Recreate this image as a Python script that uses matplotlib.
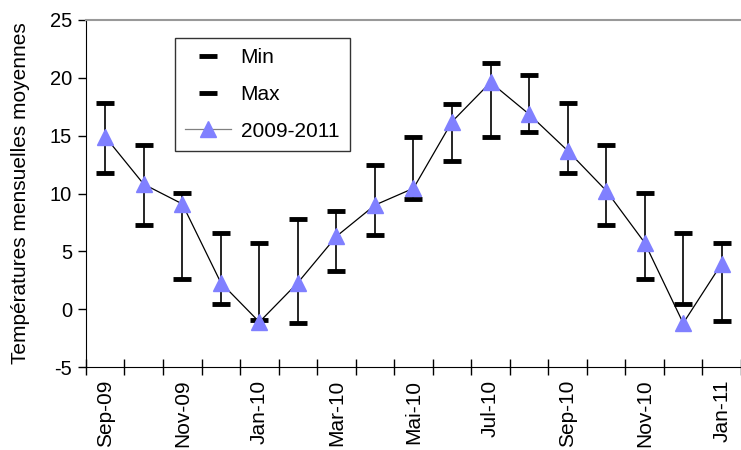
import numpy as np
import matplotlib.pyplot as plt

plt.rcParams['font.family'] = ['Liberation Sans', 'DejaVu Sans']
plt.rcParams['axes.unicode_minus'] = False

# months Sep-09 .. Jan-11
mois = ['Sep-09', 'Oct-09', 'Nov-09', 'Dec-09', 'Jan-10', 'Fev-10', 'Mar-10', 'Avr-10',
        'Mai-10', 'Jun-10', 'Jul-10', 'Aou-10', 'Sep-10', 'Oct-10', 'Nov-10', 'Dec-10', 'Jan-11']
moyenne = [14.9, 10.8, 9.1, 2.3, -1.1, 2.3, 6.3, 9.0,
           10.45, 16.2, 19.6, 16.85, 13.7, 10.25, 5.75, -1.2, 3.95]
t_min = [11.8, 7.3, 2.65, 0.5, -0.9, -1.2, 3.3, 6.4,
         9.55, 12.8, 14.9, 15.3, 11.8, 7.3, 2.65, 0.5, -1.0]
t_max = [17.85, 14.2, 10.05, 6.6, 5.75, 7.8, 8.5, 12.5,
         14.9, 17.7, 21.3, 20.25, 17.8, 14.2, 10.05, 6.6, 5.75]
labels_x = ['Sep-09', 'Nov-09', 'Jan-10', 'Mar-10', 'Mai-10', 'Jul-10', 'Sep-10', 'Nov-10', 'Jan-11']

x = np.arange(len(mois))

fig = plt.figure(figsize=(7.41, 4.5), dpi=100)
ax = fig.add_axes([0.116, 0.184, 0.884, 0.772])

# hi-lo lines
ax.vlines(x, t_min, t_max, color='black', lw=1.2, zorder=1)
ax.plot(x, t_min, ls='none', marker='_', ms=13, mew=3.5, color='black', label='Min', zorder=2)
ax.plot(x, t_max, ls='none', marker='_', ms=13, mew=3.5, color='black', label='Max', zorder=2)
ax.plot(x, moyenne, color='black', lw=0.9, marker='^', ms=12, mfc='#8080ff', mec='#8080ff',
        label='2009-2011', zorder=3)

ax.set_xlim(-0.5, len(mois) - 0.5)
ax.set_ylim(-5, 25)
ax.set_yticks(range(-5, 26, 5))
ax.set_xticks(x[::2])
ax.set_xticklabels(labels_x, rotation=90)
ax.set_xticks(np.arange(-0.5, len(mois), 1), minor=True)
ax.tick_params(axis='x', which='major', length=0, labelsize=15, pad=9)
ax.tick_params(axis='x', which='minor', direction='inout', length=11, width=1)
ax.tick_params(axis='y', direction='out', length=6, width=1, labelsize=14.5, pad=4)
ax.set_ylabel('Températures mensuelles moyennes', fontsize=15, labelpad=14)

ax.spines['right'].set_visible(False)
ax.spines['top'].set_color('#999999')
ax.spines['top'].set_linewidth(1.5)

leg = ax.legend(loc='upper left', bbox_to_anchor=(0.136, 0.948), borderaxespad=0,
                fontsize=15, frameon=True, fancybox=False, edgecolor='black',
                labelspacing=0.85, handlelength=2.2, handletextpad=0.45, borderpad=0.5)
leg.get_frame().set_linewidth(1)
for line in leg.get_lines()[2:]:
    line.set_color('grey')

fig.savefig('out.png', dpi=100)
